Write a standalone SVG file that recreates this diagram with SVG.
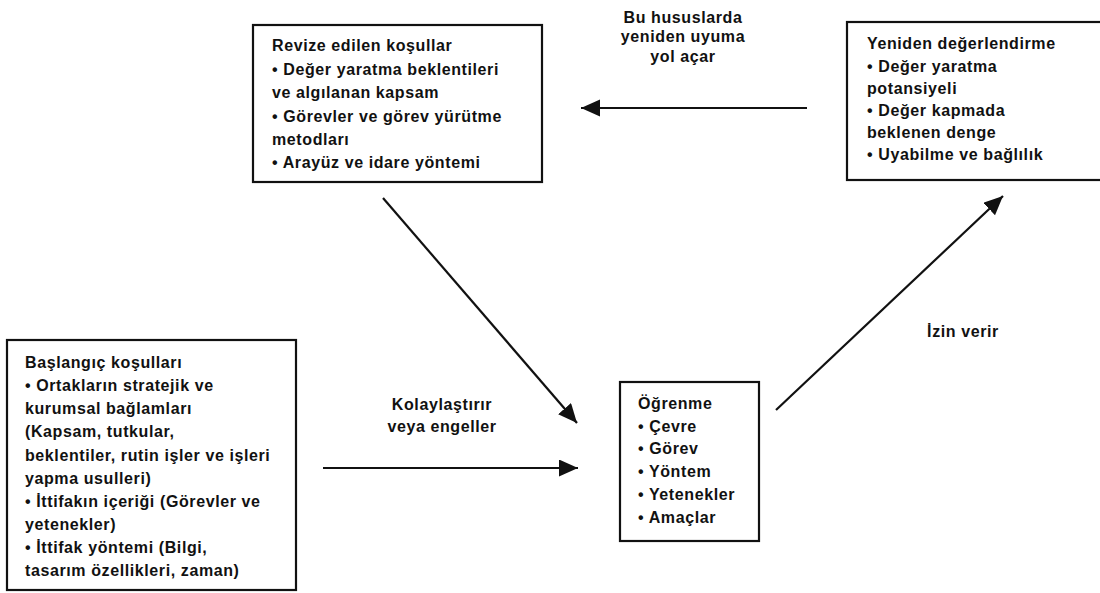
<svg xmlns="http://www.w3.org/2000/svg" width="1100" height="593" viewBox="0 0 1100 593">
<defs>
<style>
text{font-family:"Liberation Sans",Arial,sans-serif;font-weight:bold;font-size:16px;fill:#111;letter-spacing:0.6px}
.lbl{text-anchor:middle}
.box{fill:#fff;stroke:#111;stroke-width:2.2}
.con{stroke:#111;stroke-width:2.2;fill:none;marker-end:url(#ah)}
</style>
<marker id="ah" markerUnits="userSpaceOnUse" markerWidth="20" markerHeight="18" refX="19" refY="8.5" orient="auto">
<path d="M0,0 L19,8.5 L0,17 z" fill="#111"/>
</marker>
</defs>
<rect width="1100" height="593" fill="#fff"/>
<g id="connectors">
<line class="con" x1="807" y1="108" x2="581" y2="108"/>
<line class="con" x1="383" y1="198" x2="577" y2="423"/>
<line class="con" x1="323" y1="468" x2="578" y2="468"/>
<line class="con" x1="776" y1="410" x2="1003" y2="196"/>
<text class="lbl" x="683" y="23">Bu hususlarda</text>
<text class="lbl" x="683" y="42">yeniden uyuma</text>
<text class="lbl" x="683" y="62">yol açar</text>
<text class="lbl" x="442" y="410">Kolaylaştırır</text>
<text class="lbl" x="442" y="432">veya engeller</text>
<text class="lbl" x="963" y="337">İzin verir</text>
</g>
<g id="revize">
<rect class="box" x="253" y="25" width="289" height="157"/>
<text x="272" y="51">Revize edilen koşullar</text>
<text x="272" y="75">• Değer yaratma beklentileri</text>
<text x="272" y="98">ve algılanan kapsam</text>
<text x="272" y="122">• Görevler ve görev yürütme</text>
<text x="272" y="145">metodları</text>
<text x="272" y="168">• Arayüz ve idare yöntemi</text>
</g>
<g id="yeniden">
<rect class="box" x="847" y="22" width="260" height="158"/>
<text x="867" y="49">Yeniden değerlendirme</text>
<text x="867" y="72">• Değer yaratma</text>
<text x="867" y="94">potansiyeli</text>
<text x="867" y="116">• Değer kapmada</text>
<text x="867" y="138">beklenen denge</text>
<text x="867" y="160">• Uyabilme ve bağlılık</text>
</g>
<g id="baslangic">
<rect class="box" x="7" y="340" width="289" height="250"/>
<text x="25" y="368">Başlangıç koşulları</text>
<text x="25" y="391">• Ortakların stratejik ve</text>
<text x="25" y="414">kurumsal bağlamları</text>
<text x="25" y="437">(Kapsam, tutkular,</text>
<text x="25" y="461">beklentiler, rutin işler ve işleri</text>
<text x="25" y="484">yapma usulleri)</text>
<text x="25" y="507">• İttifakın içeriği (Görevler ve</text>
<text x="25" y="530">yetenekler)</text>
<text x="25" y="553">• İttifak yöntemi (Bilgi,</text>
<text x="25" y="576">tasarım özellikleri, zaman)</text>
</g>
<g id="ogrenme">
<rect class="box" x="620" y="382" width="139" height="159"/>
<text x="638" y="409">Öğrenme</text>
<text x="638" y="432">• Çevre</text>
<text x="638" y="454">• Görev</text>
<text x="638" y="477">• Yöntem</text>
<text x="638" y="500">• Yetenekler</text>
<text x="638" y="523">• Amaçlar</text>
</g>
</svg>
